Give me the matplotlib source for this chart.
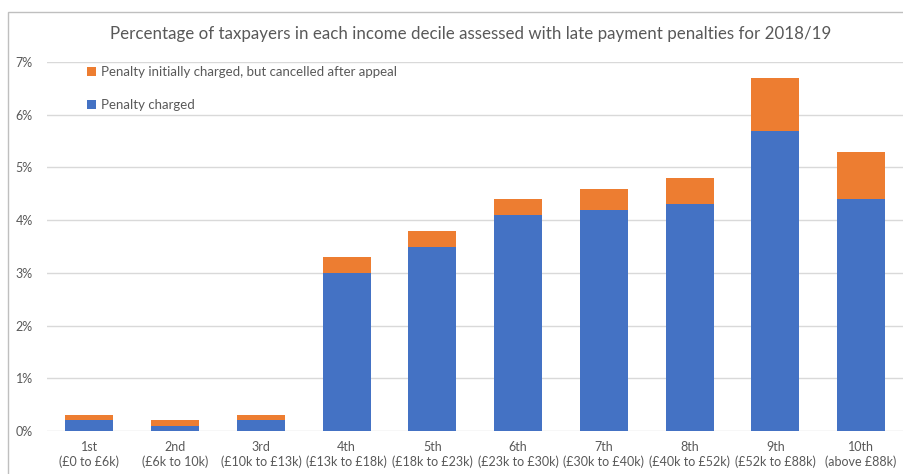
import matplotlib.pyplot as plt
from matplotlib.patches import Rectangle

plt.rcParams['font.family'] = ['Lato', 'DejaVu Sans']

deciles = ["1st", "2nd", "3rd", "4th", "5th", "6th", "7th", "8th", "9th", "10th"]
bands = ["(£0 to £6k)", "(£6k to 10k)", "(£10k to £13k)", "(£13k to £18k)",
         "(£18k to £23k)", "(£23k to £30k)", "(£30k to £40k)", "(£40k to £52k)",
         "(£52k to £88k)", "(above £88k)"]
charged = [0.2, 0.1, 0.2, 3.0, 3.5, 4.1, 4.2, 4.3, 5.7, 4.4]
cancelled = [0.1, 0.1, 0.1, 0.3, 0.3, 0.3, 0.4, 0.5, 1.0, 0.9]
yticks = [0, 1, 2, 3, 4, 5, 6, 7]

blue = "#4472C4"
orange = "#ED7D31"
grey = "#595959"

fig = plt.figure(figsize=(9.04, 4.74), dpi=100)
W, H = 904, 474

# outer chart frame (cropped on right and bottom)
fig.patches.append(Rectangle((8 / W, -0.1), 1.2, (H - 12) / H + 0.1,
                             transform=fig.transFigure, fill=False,
                             edgecolor="#bfbfbf", linewidth=1))

ax = fig.add_axes([46.6 / W, (H - 431) / H, 1 - 46.6 / W, (431 - 62) / H])
x = range(len(deciles))
b1 = ax.bar(x, charged, width=0.56, color=blue, zorder=3, label="Penalty charged")
b2 = ax.bar(x, cancelled, width=0.56, bottom=charged, color=orange, zorder=3,
            label="Penalty initially charged, but cancelled after appeal")

ax.set_xlim(-0.5, 9.5)
ax.set_ylim(0, 7)
ax.set_yticks(yticks)
ax.set_yticklabels([f"{t}%" for t in yticks])
ax.set_xticks(list(x))
ax.set_xticklabels([f"{d}\n{b}" for d, b in zip(deciles, bands)], linespacing=1.3)
ax.tick_params(axis="both", length=0, colors=grey, labelsize=9)
ax.tick_params(axis="y", pad=10)
ax.tick_params(axis="x", pad=7)
ax.grid(axis="y", color="#d9d9d9", linewidth=1, zorder=0)
for s in ax.spines.values():
    s.set_visible(False)

fig.text(471 / W, 1 - 34 / H, "Percentage of taxpayers in each income decile assessed with late payment penalties for 2018/19",
         ha="center", va="center", fontsize=12.2, color=grey)

ax.legend(handles=[b2, b1], loc="upper left", bbox_to_anchor=(87 / W, 1 - 66 / H),
          bbox_transform=fig.transFigure, frameon=False, fontsize=9.5,
          labelcolor=grey, handlelength=0.65, handleheight=0.65, handletextpad=0.4,
          labelspacing=1.6, borderpad=0, borderaxespad=0)

fig.savefig("out.png", dpi=100)
